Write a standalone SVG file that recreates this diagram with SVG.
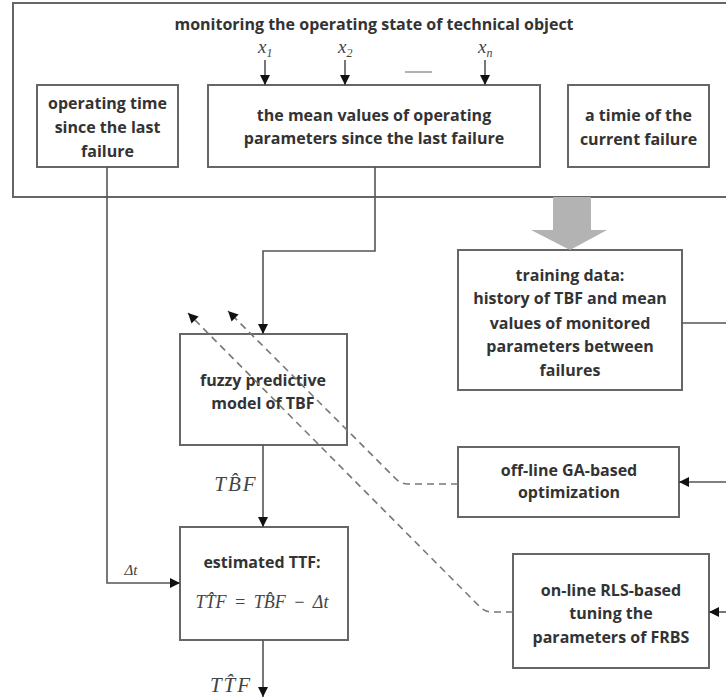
<svg xmlns="http://www.w3.org/2000/svg" width="726" height="700" viewBox="0 0 726 700">
<style>
.box{fill:#fff;stroke:#666;stroke-width:2}
.t{font-family:"Open Sans","Liberation Sans",sans-serif;font-weight:700;font-size:16px;fill:#333;text-anchor:middle}
.m{font-family:"Liberation Serif",serif;font-style:italic;fill:#444}
.ln{fill:none;stroke:#555;stroke-width:1.6}
.ds{fill:none;stroke:#777;stroke-width:1.6;stroke-dasharray:7 5}
</style>
<defs>
<marker id="ah2" viewBox="0 0 10 10" refX="10" refY="5" markerWidth="14" markerHeight="10" markerUnits="userSpaceOnUse" orient="auto">
<path d="M0,0 L10,5 L0,10 Z" fill="#111"/>
</marker>
</defs>
<g id="monitoring">
<rect x="13" y="3" width="740" height="194" fill="#fff" stroke="#666" stroke-width="2"/>
<text class="t" x="374" y="30">monitoring the operating state of technical object</text>
<text class="m" x="258" y="53" font-size="19">x<tspan font-size="12" dy="4">1</tspan></text>
<text class="m" x="338" y="53" font-size="19">x<tspan font-size="12" dy="4">2</tspan></text>
<text class="m" x="478" y="53" font-size="19">x<tspan font-size="12" dy="4">n</tspan></text>
<line x1="405" y1="72" x2="432" y2="72" stroke="#999" stroke-width="1.5"/>
</g>
<g id="op-time">
<rect class="box" x="37" y="85" width="141" height="82"/>
<text class="t" x="107.5" y="109">operating time</text>
<text class="t" x="107.5" y="133">since the last</text>
<text class="t" x="107.5" y="157">failure</text>
</g>
<g id="mean-values">
<rect class="box" x="208" y="85" width="332" height="82"/>
<text class="t" x="374" y="121">the mean values of operating</text>
<text class="t" x="374" y="144">parameters since the last failure</text>
</g>
<g id="failure-time">
<rect class="box" x="568" y="85" width="141" height="82"/>
<text class="t" x="638.5" y="121">a timie of the</text>
<text class="t" x="638.5" y="145">current failure</text>
</g>
<g id="training">
<rect class="box" x="458" y="250" width="224" height="140"/>
<text class="t" x="570" y="281">training data:</text>
<text class="t" x="570" y="304">history of TBF and mean</text>
<text class="t" x="570" y="329">values of monitored</text>
<text class="t" x="570" y="352">parameters between</text>
<text class="t" x="570" y="376">failures</text>
</g>
<g id="fuzzy-model">
<rect class="box" x="180" y="334" width="167" height="111"/>
<text class="t" x="263" y="386">fuzzy predictive</text>
<text class="t" x="263" y="409">model of TBF</text>
</g>
<g id="ga">
<rect class="box" x="458" y="447" width="221" height="70"/>
<text class="t" x="569" y="476">off-line GA-based</text>
<text class="t" x="569" y="498">optimization</text>
</g>
<g id="estimated-ttf">
<rect class="box" x="180" y="527" width="168" height="113"/>
<text class="t" x="262" y="568">estimated TTF:</text>
<text class="m" x="262" y="608" font-size="18" text-anchor="middle" fill="#666" word-spacing="3">TT̂F = TB̂F − Δt</text>
</g>
<g id="rls">
<rect class="box" x="513" y="554" width="196" height="114"/>
<text class="t" x="611" y="596">on-line RLS-based</text>
<text class="t" x="611" y="619">tuning the</text>
<text class="t" x="611" y="643">parameters of FRBS</text>
</g>
<g id="connectors">
<line class="ln" x1="265" y1="60" x2="265" y2="85" marker-end="url(#ah2)"/>
<line class="ln" x1="345" y1="60" x2="345" y2="85" marker-end="url(#ah2)"/>
<line class="ln" x1="485" y1="60" x2="485" y2="85" marker-end="url(#ah2)"/>
<polyline class="ln" points="107,167 107,583 180,583" marker-end="url(#ah2)"/>
<polyline class="ln" points="375,167 375,251 263,251 263,334" marker-end="url(#ah2)"/>
<line class="ln" x1="263" y1="445" x2="263" y2="527" marker-end="url(#ah2)"/>
<line class="ln" x1="263" y1="640" x2="263" y2="697" marker-end="url(#ah2)"/>
<polygon points="553,197 591,197 591,230 607,230 570,250 531,230 553,230" fill="#b3b3b3"/>
<line class="ln" x1="682" y1="323" x2="726" y2="323"/>
<line class="ln" x1="726" y1="482" x2="679" y2="482" marker-end="url(#ah2)"/>
<line class="ln" x1="726" y1="612" x2="709" y2="612" marker-end="url(#ah2)"/>
<path class="ds" d="M458,484 L408,484 Q401,484 396,479 L228,311" marker-end="url(#ah2)"/>
<path class="ds" d="M513,612 L492,612 Q485,612 480,607 L188,313" marker-end="url(#ah2)"/>
<text class="m" x="131" y="575" font-size="15" text-anchor="middle">Δt</text>
<text class="m" x="236" y="491" font-size="21" text-anchor="middle" letter-spacing="2">TB̂F</text>
<text class="m" x="231" y="692" font-size="21" text-anchor="middle" letter-spacing="2">TT̂F</text>
</g>
</svg>
